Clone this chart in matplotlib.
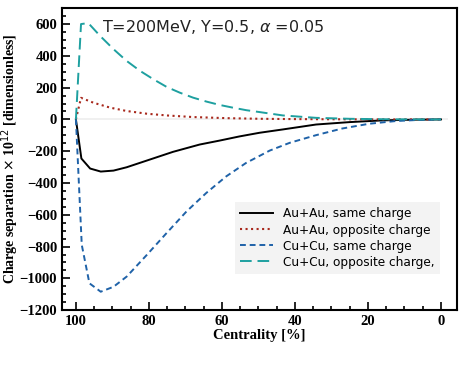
import numpy as np
import matplotlib
matplotlib.use("Agg")
import matplotlib.pyplot as plt
from matplotlib.ticker import MultipleLocator

# centrality [%] and charge separation x 1e12
au_same_c = [100, 98.5, 96.1, 93.2, 89.7, 86.1, 80.6, 73.4, 66.1, 60.6, 55.2, 49.7,
             43.3, 34.2, 25.1, 16.0, 8.0, 0]
au_same_v = [0, -246, -309, -328, -322, -301, -259, -204, -158, -133, -107, -84,
             -63, -32, -17, -6, -2, 0]

au_opp_c = [100, 98.6, 95.2, 90.6, 86.1, 80.6, 75.1, 67.9, 58.8, 49.6, 40, 30, 20, 10, 0]
au_opp_v = [0, 136, 105, 74, 53, 36, 25, 15, 8, 4, 2, 1, 0.5, 0.2, 0]

cu_same_c = [100, 98.4, 96.3, 93.2, 89.7, 86.1, 80.6, 75.2, 69.7, 64.3, 58.8, 53.4,
             46.9, 41.4, 34.2, 27.0, 19.6, 12.3, 6.0, 0]
cu_same_v = [0, -789, -1031, -1084, -1053, -989, -853, -716, -579, -463, -358, -274,
             -196, -147, -99, -57, -27, -10, -3, 0]

cu_opp_c = [100, 98.6, 96.6, 93.4, 89.7, 86.1, 82.4, 78.8, 75.1, 71.5, 67.9, 64.2,
            60.6, 57.0, 53.3, 49.6, 43.3, 34.2, 25.0, 15.0, 7.0, 0]
cu_opp_v = [0, 600, 606, 526, 442, 368, 305, 253, 204, 168, 137, 112,
            91, 74, 58, 46, 25, 10, 4, 1, 0.3, 0]


def main():
    fig = plt.figure(figsize=(4.63, 3.71), dpi=100)
    ax = fig.add_axes([0.134, 0.164, 0.853, 0.814])

    ax.hlines(0, 100, -2, color="#eeeeee", lw=1.2, zorder=1)
    ax.plot(au_same_c, au_same_v, "-", color="black", lw=1.4, label="Au+Au, same charge")
    ax.plot(au_opp_c, au_opp_v, ":", color="#a8281c", lw=1.5, label="Au+Au, opposite charge")
    ax.plot(cu_same_c, cu_same_v, color="#1f62a8", lw=1.4, dashes=(3, 2),
            label="Cu+Cu, same charge")
    ax.plot(cu_opp_c, cu_opp_v, color="#1ea0a0", lw=1.4, dashes=(6, 3),
            label="Cu+Cu, opposite charge,")

    ax.set_xlim(103.8, -4.4)
    ax.set_ylim(-1200, 700)
    ax.xaxis.set_major_locator(MultipleLocator(20))
    ax.xaxis.set_minor_locator(MultipleLocator(5))
    ax.yaxis.set_major_locator(MultipleLocator(200))
    ax.yaxis.set_minor_locator(MultipleLocator(50))
    ax.tick_params(which="both", direction="in", top=False, right=False, width=1.2)
    ax.tick_params(which="major", length=6)
    ax.tick_params(which="minor", length=3)
    for s in ax.spines.values():
        s.set_linewidth(1.5)

    for lab in ax.get_xticklabels() + ax.get_yticklabels():
        lab.set_fontfamily("Liberation Serif")
        lab.set_fontweight("bold")
        lab.set_fontsize(10.5)
    ax.set_xlabel("Centrality [%]", family="Liberation Serif", weight="bold", size=10.5,
                  labelpad=1)
    ax.set_ylabel("Charge separation $\\times$ 10$^{12}$ [dimensionless]",
                  family="Liberation Serif", weight="bold", size=10)
    ax.yaxis.set_label_coords(-0.104, 0.5)

    ax.text(0.1, 0.937, "T=200MeV, Y=0.5, $\\alpha$ =0.05", transform=ax.transAxes,
            fontsize=11.5, ha="left", va="center", color="#222222")

    leg = ax.legend(loc="upper left", bbox_to_anchor=(0.438, 0.358), fontsize=8.7,
                    frameon=True, fancybox=False, handlelength=2.7, handletextpad=0.8,
                    labelspacing=0.25, borderpad=0.45, borderaxespad=0)
    leg.get_frame().set_facecolor("#f3f3f3")
    leg.get_frame().set_edgecolor("none")
    leg.get_frame().set_alpha(1)

    fig.savefig("out.png", dpi=100)


if __name__ == "__main__":
    main()
